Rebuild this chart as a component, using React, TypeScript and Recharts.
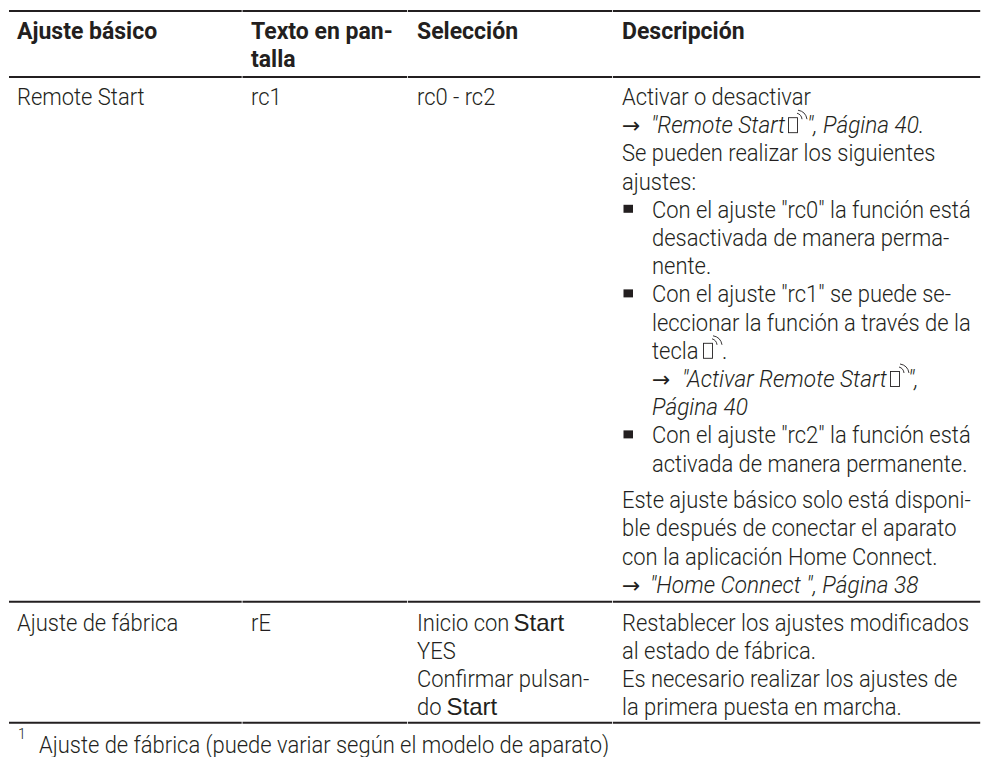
import { ScatterChart, Scatter, XAxis, YAxis, ReferenceLine } from "recharts";

const INK = "#231f20";
const BODY_FONT = 'Roboto, "Liberation Sans", sans-serif';
const KEY_FONT = '"Liberation Sans", sans-serif';
const ARROW_FONT = '"DejaVu Sans", sans-serif';

// column left edges, bullet text indent and the rule breaks between columns
const colA = 17;
const colB = 251;
const colC = 417;
const colD = 622;
const indent = 652;
const ruleBreaks = [9, 242.5, 408, 613, 981];

// rows of text are placed by line number, 0 = first line of the first row
const ruleLines = [-3.33, -0.99, 17.62, 21.91];

const headerLines = [
  { x: colA, line: -2.33, text: "Ajuste básico" },
  { x: colB, line: -2.33, text: "Texto en pan-" },
  { x: colB, line: -1.33, text: "talla" },
  { x: colC, line: -2.33, text: "Selección" },
  { x: colD, line: -2.33, text: "Descripción" },
];

const bodyLines = [
  { x: colA, line: 0, text: "Remote Start" },
  { x: colB, line: 0, text: "rc1" },
  { x: colC, line: 0, text: "rc0 - rc2" },
  { x: colD, line: 0, text: "Activar o desactivar" },
  { x: colD, line: 2, text: "Se pueden realizar los siguientes" },
  { x: colD, line: 3, text: "ajustes:" },
  { x: indent, line: 4, text: 'Con el ajuste "rc0" la función está' },
  { x: indent, line: 5, text: "desactivada de manera perma-" },
  { x: indent, line: 6, text: "nente." },
  { x: indent, line: 7, text: 'Con el ajuste "rc1" se puede se-' },
  { x: indent, line: 8, text: "leccionar la función a través de la" },
  { x: indent, line: 9, text: "tecla" },
  { x: 722, line: 9, text: "." },
  { x: indent, line: 12, text: 'Con el ajuste "rc2" la función está' },
  { x: indent, line: 13, text: "activada de manera permanente." },
  { x: colD, line: 14.3, text: "Este ajuste básico solo está disponi-" },
  { x: colD, line: 15.3, text: "ble después de conectar el aparato" },
  { x: colD, line: 16.3, text: "con la aplicación Home Connect." },
  { x: colA, line: 18.64, text: "Ajuste de fábrica" },
  { x: colB, line: 18.64, text: "rE" },
  { x: colC, line: 18.64, text: "Inicio con" },
  { x: colC, line: 19.64, text: "YES" },
  { x: colC, line: 20.64, text: "Confirmar pulsan-" },
  { x: colC, line: 21.64, text: "do" },
  { x: colD, line: 18.64, text: "Restablecer los ajustes modificados" },
  { x: colD, line: 19.64, text: "al estado de fábrica." },
  { x: colD, line: 20.64, text: "Es necesario realizar los ajustes de" },
  { x: colD, line: 21.64, text: "la primera puesta en marcha." },
  { x: 39, line: 22.98, text: "Ajuste de fábrica (puede variar según el modelo de aparato)" },
];

const italicLines = [
  { x: 651, line: 1, text: '"Remote Start' },
  { x: 807, line: 1, text: '", Página 40.' },
  { x: 682, line: 10, text: '"Activar Remote Start' },
  { x: 908, line: 10, text: '",' },
  { x: indent, line: 11, text: "Página 40" },
  { x: 650, line: 17.3, text: '"Home Connect ", Página 38' },
];

const arrowLines = [
  { x: colD, line: 1, text: "→" },
  { x: indent, line: 10, text: "→" },
  { x: colD, line: 17.3, text: "→" },
];

const keyLines = [
  { x: 513.5, line: 18.64, text: "Start" },
  { x: 446.5, line: 21.64, text: "Start" },
];

const bulletPoints = [
  { x: 623.5, line: 4 },
  { x: 623.5, line: 7 },
  { x: 623.5, line: 12 },
];

const iconPoints = [
  { x: 788, line: 1 },
  { x: 703, line: 9 },
  { x: 890, line: 10 },
];

const noteMark = [{ x: 18, line: 22.48, text: "1" }];

// the source face is condensed, so the text is squeezed sideways from its own start
function textShape(fontFamily: string, fontSize: number, squeeze = 1, extra: any = {}) {
  return (props: any) => (
    <text
      transform={`translate(${props.cx} ${props.cy}) scale(${squeeze} 1)`}
      fontFamily={fontFamily}
      fontSize={fontSize}
      fill={INK}
      {...extra}
    >
      {props.payload.text}
    </text>
  );
}

function BulletShape(props: any) {
  return <rect x={props.cx} y={props.cy - 13} width={9.5} height={8} fill={INK} />;
}

function RemoteIcon(props: any) {
  const { cx, cy } = props;
  return (
    <g fill="none" stroke={INK}>
      <rect x={cx + 0.5} y={cy - 15.5} width={9} height={15} strokeWidth={0.9} />
      <path d={`M${cx + 9} ${cy - 20}a7 7 0 0 1 5 6`} strokeWidth={0.9} />
      <path d={`M${cx + 10} ${cy - 23}a11 11 0 0 1 9 9`} strokeWidth={0.9} />
    </g>
  );
}

export default function App() {
  return (
    <div style={{ position: "absolute", left: 0, top: 0, background: "#fff" }}>
      <ScatterChart width={981} height={757} margin={{ top: 0, right: 0, bottom: 0, left: 0 }}>
        <XAxis type="number" dataKey="x" domain={[0, 981]} hide />
        <YAxis type="number" dataKey="line" domain={[-3.723, 23.121]} reversed hide width={0} />

        {ruleLines.flatMap((line) =>
          ruleBreaks.slice(1).map((end, i) => (
            <ReferenceLine
              key={`${line}-${i}`}
              segment={[
                { x: ruleBreaks[i], y: line },
                { x: end - 0.8, y: line },
              ]}
              stroke={INK}
              strokeWidth={2}
            />
          ))
        )}

        <Scatter data={headerLines} isAnimationActive={false} shape={textShape(BODY_FONT, 23, 1, { fontWeight: 700 })} />
        <Scatter data={bodyLines} isAnimationActive={false} shape={textShape(BODY_FONT, 23, 0.955, { fontWeight: 300 })} />
        <Scatter data={italicLines} isAnimationActive={false} shape={textShape(BODY_FONT, 23, 0.985, { fontWeight: 300, fontStyle: "italic" })} />
        <Scatter data={arrowLines} isAnimationActive={false} shape={textShape(ARROW_FONT, 22)} />
        <Scatter data={keyLines} isAnimationActive={false} shape={textShape(KEY_FONT, 24)} />
        <Scatter data={noteMark} isAnimationActive={false} shape={textShape(BODY_FONT, 14, 1, { fontWeight: 300 })} />
        <Scatter data={bulletPoints} isAnimationActive={false} shape={BulletShape} />
        <Scatter data={iconPoints} isAnimationActive={false} shape={RemoteIcon} />
      </ScatterChart>
    </div>
  );
}
